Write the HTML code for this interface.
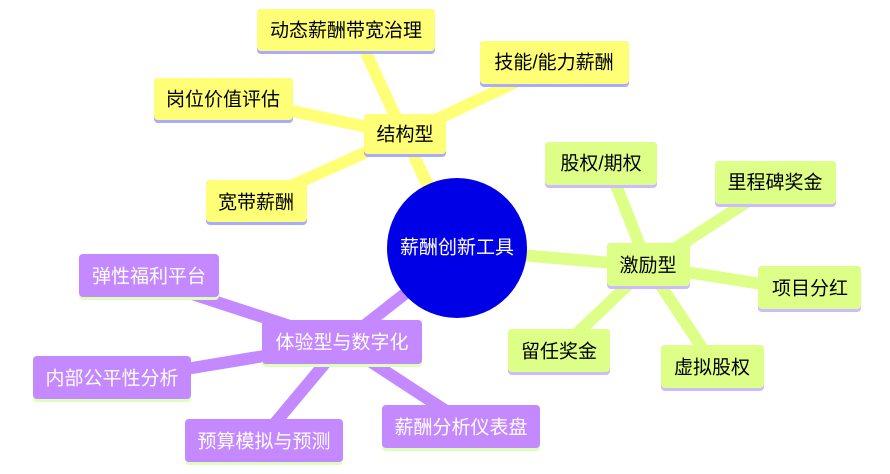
<!DOCTYPE html>
<html><head><meta charset="utf-8"><style>
html,body{margin:0;padding:0;background:#fff;}
svg text{font-family:"Liberation Sans","Noto Sans CJK SC",sans-serif;font-size:19px;dominant-baseline:central;text-anchor:middle;}
</style></head><body>
<svg width="890" height="469" viewBox="0 0 890 469" xmlns="http://www.w3.org/2000/svg">
<g stroke-linecap="butt" stroke-width="12">
<g stroke="#ffff77">
<line x1="404" y1="135" x2="430" y2="190"/>
<line x1="404" y1="135" x2="360" y2="40"/>
<line x1="404" y1="135" x2="520" y2="80"/>
<line x1="404" y1="135" x2="250" y2="102"/>
<line x1="404" y1="135" x2="260" y2="200"/>
</g>
<g stroke="#ddff88">
<line x1="648" y1="266" x2="520" y2="255"/>
<line x1="648" y1="266" x2="610" y2="170"/>
<line x1="648" y1="266" x2="750" y2="200"/>
<line x1="648" y1="266" x2="800" y2="290"/>
<line x1="648" y1="266" x2="570" y2="340"/>
<line x1="648" y1="266" x2="710" y2="360"/>
</g>
<g stroke="#c488ff">
<line x1="342" y1="343" x2="420" y2="282"/>
<line x1="342" y1="343" x2="180" y2="290"/>
<line x1="342" y1="343" x2="150" y2="375"/>
<line x1="342" y1="343" x2="265" y2="435"/>
<line x1="342" y1="343" x2="460" y2="420"/>
</g>
</g>
<circle cx="457" cy="248" r="70" fill="#0000e6"/>
<text x="457" y="248" fill="#fff">薪酬创新工具</text>

<g>
<rect x="364" y="114" width="82" height="43" rx="4" fill="#aaaaff"/><rect x="364" y="114" width="82" height="40" rx="4" fill="#ffff77"/><text x="405" y="135">结构型</text>
<rect x="257" y="9" width="178" height="45" rx="4" fill="#aaaaff"/><rect x="257" y="9" width="178" height="42" rx="4" fill="#ffff77"/><text x="346" y="31">动态薪酬带宽治理</text>
<rect x="480" y="41" width="149" height="46" rx="4" fill="#aaaaff"/><rect x="480" y="41" width="149" height="43" rx="4" fill="#ffff77"/><text x="554" y="63">技能/能力薪酬</text>
<rect x="154" y="78" width="139" height="45" rx="4" fill="#aaaaff"/><rect x="154" y="78" width="139" height="42" rx="4" fill="#ffff77"/><text x="223" y="100">岗位价值评估</text>
<rect x="206" y="180" width="101" height="45" rx="4" fill="#aaaaff"/><rect x="206" y="180" width="101" height="42" rx="4" fill="#ffff77"/><text x="256" y="203">宽带薪酬</text>
</g>
<g>
<rect x="607" y="243" width="83" height="46" rx="4" fill="#ccbbff"/><rect x="607" y="243" width="83" height="43" rx="4" fill="#ddff88"/><text x="648" y="266">激励型</text>
<rect x="545" y="142" width="112" height="46" rx="4" fill="#ccbbff"/><rect x="545" y="142" width="112" height="43" rx="4" fill="#ddff88"/><text x="601" y="164">股权/期权</text>
<rect x="715" y="161" width="121" height="46" rx="4" fill="#ccbbff"/><rect x="715" y="161" width="121" height="43" rx="4" fill="#ddff88"/><text x="775" y="183">里程碑奖金</text>
<rect x="758" y="266" width="103" height="46" rx="4" fill="#ccbbff"/><rect x="758" y="266" width="103" height="43" rx="4" fill="#ddff88"/><text x="810" y="289">项目分红</text>
<rect x="508" y="329" width="102" height="46" rx="4" fill="#ccbbff"/><rect x="508" y="329" width="102" height="43" rx="4" fill="#ddff88"/><text x="559" y="352">留任奖金</text>
<rect x="661" y="345" width="103" height="46" rx="4" fill="#ccbbff"/><rect x="661" y="345" width="103" height="43" rx="4" fill="#ddff88"/><text x="712" y="368">虚拟股权</text>
</g>
<g fill="#fff">
<rect x="262" y="320" width="160" height="47" rx="4" fill="#ddffbb"/><rect x="262" y="320" width="160" height="44" rx="4" fill="#c488ff"/><text x="342" y="343">体验型与数字化</text>
<rect x="79" y="254" width="140" height="46" rx="4" fill="#ddffbb"/><rect x="79" y="254" width="140" height="43" rx="4" fill="#c488ff"/><text x="149" y="277">弹性福利平台</text>
<rect x="33" y="356" width="158" height="46" rx="4" fill="#ddffbb"/><rect x="33" y="356" width="158" height="43" rx="4" fill="#c488ff"/><text x="112" y="379">内部公平性分析</text>
<rect x="185" y="419" width="158" height="46" rx="4" fill="#ddffbb"/><rect x="185" y="419" width="158" height="43" rx="4" fill="#c488ff"/><text x="264" y="442">预算模拟与预测</text>
<rect x="382" y="405" width="158" height="46" rx="4" fill="#ddffbb"/><rect x="382" y="405" width="158" height="43" rx="4" fill="#c488ff"/><text x="461" y="428">薪酬分析仪表盘</text>
</g>
</svg>
</body></html>
